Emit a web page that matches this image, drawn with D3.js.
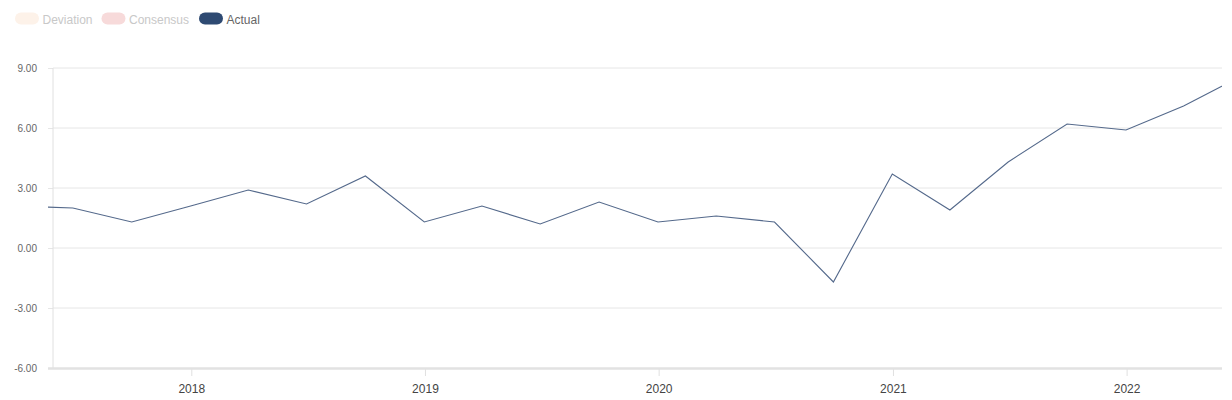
<!DOCTYPE html>
<html>
<head>
<meta charset="utf-8">
<script src="https://cdn.jsdelivr.net/npm/d3@7"></script>
<style>
  html, body { margin: 0; padding: 0; background: #fff; }
  svg { display: block; font-family: "Liberation Sans", Arial, sans-serif; }
</style>
</head>
<body>
<svg id="chart" width="1232" height="400"></svg>
<script>
// ---- Data ----
const dates = ["2017-03-31","2017-06-30","2017-09-30","2017-12-31",
  "2018-03-31","2018-06-30","2018-09-30","2018-12-31",
  "2019-03-31","2019-06-30","2019-09-30","2019-12-31",
  "2020-03-31","2020-06-30","2020-09-30","2020-12-31",
  "2021-03-31","2021-06-30","2021-09-30","2021-12-31",
  "2022-03-31","2022-06-30"];
const actual = [2.1, 2.0, 1.3, 2.1, 2.9, 2.2, 3.6, 1.3, 2.1, 1.2, 2.3, 1.3,
  1.6, 1.3, -1.7, 3.7, 1.9, 4.3, 6.2, 5.9, 7.1, 8.6];
const yTicks = [-6, -3, 0, 3, 6, 9];
const xTickYears = ["2018", "2019", "2020", "2021", "2022"];
const legendItems = ["Deviation", "Consensus", "Actual"];
const legendColors = ["#fdf2e9", "#f7dada", "#2e4a72"];
const legendTextColors = ["#c8c8c8", "#c8c8c8", "#666666"];
const xDomain = ["2017-05-30", "2022-05-30"];
const yDomain = [-6, 9];

// ---- Layout ----
(function () {
const svg = d3.select("#chart");
const mLeft = 53, mRight = 1222, mTop = 68, mBottom = 368;
const parse = d3.utcParse("%Y-%m-%d");
const fmt = d3.formatLocale({decimal: ".", thousands: ",", grouping: [3], currency: ["", ""], minus: "-"}).format(".2f");

const x = d3.scaleUtc().domain(xDomain.map(parse)).range([mLeft, mRight]);
const y = d3.scaleLinear().domain(yDomain).range([mBottom, mTop]);

// gridlines + y labels
const yAxis = svg.append("g").attr("transform", `translate(${mLeft},0)`)
  .call(d3.axisLeft(y).tickValues(yTicks).tickSize(5).tickFormat(fmt));
yAxis.select(".domain").remove();
yAxis.selectAll(".tick line").attr("stroke", "#e6e6e6");
yAxis.selectAll(".tick text").attr("fill", "#666").attr("font-size", 10)
  .attr("font-family", "Liberation Sans, Arial, sans-serif").attr("x", -16);

svg.append("g").selectAll("line").data(yTicks.filter(d => d !== yDomain[0])).join("line")
  .attr("x1", mLeft).attr("x2", mRight)
  .attr("y1", d => y(d)).attr("y2", d => y(d))
  .attr("stroke", "#e6e6e6").attr("stroke-width", 1);

// vertical axis line
svg.append("line").attr("x1", mLeft).attr("x2", mLeft).attr("y1", mTop).attr("y2", mBottom)
  .attr("stroke", "#e0e0e0").attr("stroke-width", 1);

// x axis
const xAxis = svg.append("g").attr("transform", `translate(0,${mBottom + 1})`)
  .call(d3.axisBottom(x).tickValues(xTickYears.map(v => parse(v + "-01-01")))
    .tickSize(7).tickPadding(8).tickFormat(d3.utcFormat("%Y")));
xAxis.select(".domain").remove();
xAxis.selectAll(".tick line").attr("stroke", "#e0e0e0");
xAxis.selectAll(".tick text").attr("fill", "#444").attr("font-size", 12)
  .attr("font-family", "Liberation Sans, Arial, sans-serif");
svg.append("line").attr("x1", mLeft - 5).attr("x2", mRight)
  .attr("y1", mBottom + 0.5).attr("y2", mBottom + 0.5)
  .attr("stroke", "#e2e2e2").attr("stroke-width", 2.5);

// clip
svg.append("clipPath").attr("id", "plotclip").append("rect")
  .attr("x", mLeft - 5).attr("y", 0).attr("width", mRight - mLeft + 5).attr("height", 400);

const data = dates.map((d, i) => ({ date: parse(d), value: actual[i] }));
svg.append("path").datum(data)
  .attr("clip-path", "url(#plotclip)")
  .attr("fill", "none").attr("stroke", "#54698b").attr("stroke-width", 1.1)
  .attr("d", d3.line().x(d => x(d.date)).y(d => y(d.value)));

// legend
const legendX = [15, 101.5, 199];
const lg = svg.append("g");
legendItems.forEach((name, i) => {
  lg.append("rect").attr("x", legendX[i]).attr("y", 12.5).attr("width", 24).attr("height", 12)
    .attr("rx", 6).attr("fill", legendColors[i]);
  lg.append("text").attr("x", legendX[i] + 27.5).attr("y", 23.5)
    .attr("font-size", 12).attr("fill", legendTextColors[i]).text(name);
});
})();
</script>
</body>
</html>
